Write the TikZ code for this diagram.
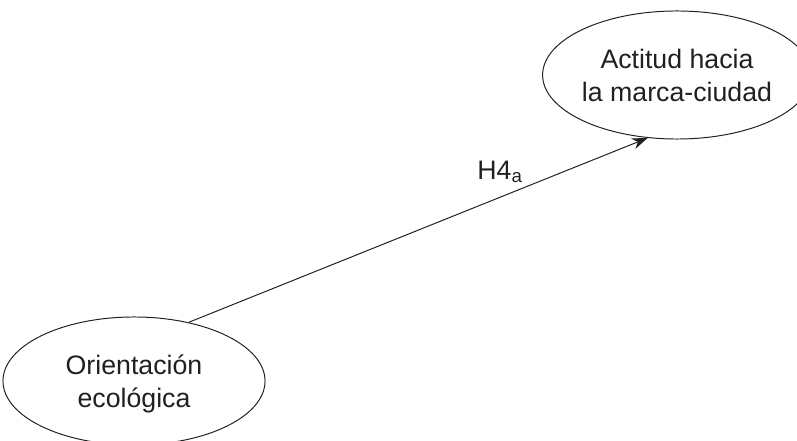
\documentclass[tikz,border=0pt]{standalone}
\usepackage{fontspec}
\setmainfont{Liberation Sans}
\usetikzlibrary{shapes.geometric,arrows.meta}

\begin{document}
\begin{tikzpicture}[x=0.025cm,y=0.025cm,>={Stealth[length=11pt,width=8pt]},
    construct/.style={ellipse,draw=ink,line width=0.7pt,align=center,inner sep=0pt,
      text=ink,text depth=0pt,font=\fontsize{19}{23.4}\selectfont}]
            \definecolor{ink}{RGB}{35,31,32}
            \useasboundingbox (0,0) rectangle (797,441);
            \node[construct,minimum width=6.05cm,minimum height=3.2cm] (actitud) at (677,366) {Actitud hacia\\la marca-ciudad};
            \node[construct,minimum width=6.55cm,minimum height=3.2cm] (orient) at (134,60) {Orientación\\ecológica};
            \draw[->,ink,line width=0.7pt] (orient.47) -- (actitud.245);
            \node[ink,font=\fontsize{19}{23.4}\selectfont] (h4) at (500,269) {H4\textsubscript{a}};
        \end{tikzpicture}
\end{document}
